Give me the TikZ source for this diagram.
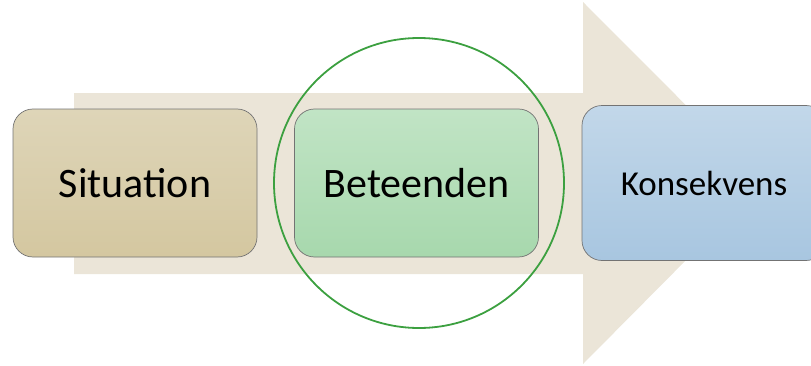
\documentclass[tikz,border=0pt]{standalone}
\usepackage{fontspec}
\setmainfont{Carlito}
\usetikzlibrary{calc}
\definecolor{arrowc}{RGB}{235,229,216}
\definecolor{sitc1}{RGB}{222,213,184}
\definecolor{sitc2}{RGB}{212,199,160}
\definecolor{behc1}{RGB}{193,228,197}
\definecolor{behc2}{RGB}{167,216,173}
\definecolor{konc1}{RGB}{194,215,233}
\definecolor{konc2}{RGB}{168,198,224}
\definecolor{ringc}{RGB}{60,160,64}

\begin{document}
\begin{tikzpicture}[x=1pt, y=1pt,
	stagebox/.style={draw=black!55, line width=0.7pt, rounded corners=20pt, minimum width=244pt, minimum height=148pt, font=\fontsize{42}{50}\selectfont},
	ring/.style={draw=ringc, line width=1.8pt, circle, minimum size=290pt}]
					\useasboundingbox (0,0) rectangle (811,365);
					% big background arrow
					\fill[arrowc] (74,272) -- (583,272) -- (583,363) -- (763,182.5) -- (583,1) -- (583,91) -- (74,91) -- cycle;
					
					\node[stagebox, top color=sitc1, bottom color=sitc2] (n0) at (135,182) {Situation};
					\node[stagebox, top color=behc1, bottom color=behc2] (n1) at (416.5,182) {Beteenden};
					\node[stagebox, top color=konc1, bottom color=konc2, minimum height=155pt, font=\fontsize{35}{42}\selectfont] (n2) at (704,182) {Konsekvens};
					
					\node[ring] (r1) at (419,182) {};
					\end{tikzpicture}
\end{document}
